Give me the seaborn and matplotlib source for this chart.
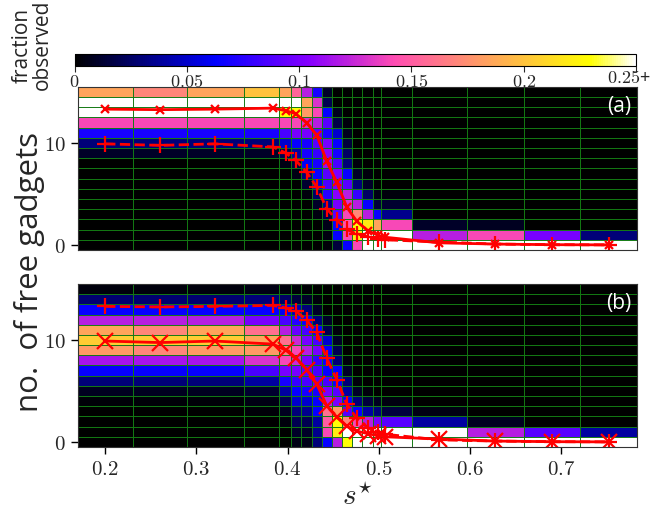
import numpy as np
import matplotlib
matplotlib.use("Agg")
import matplotlib.pyplot as plt
import seaborn as sns

sns.set_style("ticks")
plt.rcParams.update({"font.family": ["Open Sans", "DejaVu Sans"],
                     "mathtext.fontset": "cm"})

# ------------------------------------------------------------------ data
s_star = [0.2, 0.26, 0.32, 0.384, 0.398, 0.409, 0.421, 0.432, 0.443, 0.454,
          0.465, 0.476, 0.488, 0.499, 0.507, 0.566, 0.628, 0.690, 0.752]
n_free = list(range(16))

# mean number of free gadgets (two curves, shown in both panels)
mean_hi = [13.3, 13.25, 13.3, 13.4, 13.15, 12.85, 11.95, 10.75, 8.2, 6.12,
           3.7, 2.3, 1.4, 0.95, 0.75, 0.2, 0.08, 0.02, 0.0]
mean_lo = [9.9, 9.75, 9.9, 9.6, 9.0, 8.28, 7.1, 5.68, 3.55, 2.42,
           1.52, 1.06, 0.81, 0.6, 0.5, 0.28, 0.08, 0.02, 0.0]

# fraction observed (%), one list per s* column, rows n = 0..15
frac_a = [
    [0, 0, 0, 0, 0, 0, 0, 0, 0, 1, 3, 7, 14, 30, 30, 18.5],
    [0, 0, 0, 0, 0, 0, 0, 0, 0, 1, 3, 7, 14, 30, 30, 17],
    [0, 0, 0, 0, 0, 0, 0, 0, 0, 1, 3, 7, 14, 30, 30, 18.5],
    [0, 0, 0, 0, 0, 0, 0, 0, 0, 1, 3, 7, 14, 30, 30, 20],
    [0, 0, 0, 0, 0, 0, 0, 0, 0.5, 2, 5, 8.5, 14, 23, 27, 18.5],
    [0, 0, 0, 0, 0, 0, 0, 0.5, 1.5, 4, 6.5, 10, 14, 23, 26, 15.5],
    [0, 0, 0, 0, 0, 0.3, 1.2, 3, 6, 7, 7, 10, 13, 18, 18.5, 12],
    [0, 0, 0, 0.4, 1, 2.5, 5.5, 6.5, 7, 8, 9, 9, 12, 14, 13, 7],
    [0.2, 0.4, 0.6, 1.8, 3.5, 7.5, 8.5, 9, 11, 10.5, 10, 7, 9, 6.5, 2, 1],
    [1.5, 6.5, 6.5, 9, 10, 10.5, 10, 10, 8.5, 7, 6.5, 5, 1.8, 0.8, 0, 0],
    [6.5, 14, 14.5, 14, 13, 12, 9, 6.5, 3, 2.5, 1.5, 0.8, 0.3, 0, 0, 0],
    [14, 22, 23, 17, 12, 8, 3, 1, 0.3, 0, 0, 0, 0, 0, 0, 0],
    [28, 30, 22, 12, 6.5, 2.5, 1, 0.3, 0, 0, 0, 0, 0, 0, 0, 0],
    [40, 35, 18.5, 6.5, 1.5, 0.5, 0, 0, 0, 0, 0, 0, 0, 0, 0, 0],
    [45, 35, 14, 3.5, 1.2, 0.3, 0, 0, 0, 0, 0, 0, 0, 0, 0, 0],
    [86, 12, 1, 0, 0, 0, 0, 0, 0, 0, 0, 0, 0, 0, 0, 0],
    [85, 14, 0.8, 0, 0, 0, 0, 0, 0, 0, 0, 0, 0, 0, 0, 0],
    [90, 10, 0, 0, 0, 0, 0, 0, 0, 0, 0, 0, 0, 0, 0, 0],
    [97, 3, 0, 0, 0, 0, 0, 0, 0, 0, 0, 0, 0, 0, 0, 0],
]
frac_b = [
    [0, 0, 0, 0, 0.2, 0.8, 3, 6.5, 11.5, 18, 20.5, 18.5, 12, 6.5, 2.8, 0.3],
    [0, 0, 0, 0, 0.2, 0.8, 3, 6.5, 11.5, 17, 20.5, 17, 12, 6.5, 2.8, 0.3],
    [0, 0, 0, 0, 0.2, 0.8, 3, 6.5, 11.5, 18, 20.5, 18.5, 12, 6.5, 2.8, 0.3],
    [0, 0, 0, 0.2, 0.5, 1.2, 4, 8.5, 13, 18, 18.5, 16, 10, 6.5, 3, 0.5],
    [0, 0, 0.3, 0.8, 2, 4, 7, 10, 14, 16.5, 16, 12, 8.5, 6, 2.5, 0.3],
    [0.5, 1, 2, 3, 5, 6.5, 8, 10, 12.5, 14, 12.5, 9.5, 7.5, 4.5, 1.5, 0.2],
    [0.6, 1, 2, 3.5, 5, 7, 8.5, 9, 10, 12, 10, 8.5, 6.5, 3, 1, 0.1],
    [3, 3.5, 4, 6.5, 6.5, 7, 9, 8.5, 8, 10, 8.5, 6.5, 3, 1, 0.3, 0],
    [6.5, 14, 15, 16, 12, 10, 8.5, 6.5, 6.5, 6.5, 5, 2, 1, 0, 0, 0],
    [12, 22, 23, 18, 10, 9, 6.5, 6.5, 3, 2, 1, 0.3, 0, 0, 0, 0],
    [23, 30, 17, 9, 6.5, 4, 3, 1, 0.3, 0, 0, 0, 0, 0, 0, 0],
    [40, 35, 14, 6.5, 3, 1, 0.3, 0, 0, 0, 0, 0, 0, 0, 0, 0],
    [45, 35, 12, 4, 1.5, 0.3, 0, 0, 0, 0, 0, 0, 0, 0, 0, 0],
    [50, 35, 10, 3, 0.8, 0, 0, 0, 0, 0, 0, 0, 0, 0, 0, 0],
    [55, 30, 9, 1.5, 0.4, 0, 0, 0, 0, 0, 0, 0, 0, 0, 0, 0],
    [70, 27, 4, 0.5, 0, 0, 0, 0, 0, 0, 0, 0, 0, 0, 0, 0],
    [85, 12, 0.8, 0, 0, 0, 0, 0, 0, 0, 0, 0, 0, 0, 0, 0],
    [90, 9, 0, 0, 0, 0, 0, 0, 0, 0, 0, 0, 0, 0, 0, 0],
    [95, 4, 0, 0, 0, 0, 0, 0, 0, 0, 0, 0, 0, 0, 0, 0],
]

x_ticks = [0.2, 0.3, 0.4, 0.5, 0.6, 0.7]
y_ticks = [0, 10]
cbar_ticks = [0, 0.05, 0.1, 0.15, 0.2, 0.25]
VMAX = 0.25
GRID = "#137a13"

# bin edges halfway between the s* samples
xs = np.array(s_star)
mid = (xs[1:] + xs[:-1]) / 2
xedges = np.concatenate([[xs[0] - (xs[1] - xs[0]) / 2], mid,
                         [xs[-1] + (xs[-1] - xs[-2]) / 2]])
yedges = np.arange(len(n_free) + 1) - 0.5

cmap = plt.get_cmap("gnuplot2")
norm = plt.Normalize(0, VMAX)

fig = plt.figure(figsize=(6.52, 5.13), dpi=100)
ax_a = fig.add_axes([0.1193, 0.5127, 0.8574, 0.3183])
ax_b = fig.add_axes([0.1193, 0.1287, 0.8574, 0.3177])
cax = fig.add_axes([0.1143, 0.8721, 0.8612, 0.0236])


def panel(ax, frac, solid, dashed, solid_ms, label):
    C = np.array(frac).T / 100.0
    ax.pcolormesh(xedges, yedges, C, cmap=cmap, norm=norm,
                  edgecolors="none")
    # thin green cell grid
    for xe in xedges[1:-1]:
        ax.axvline(xe, color=GRID, lw=0.7)
    for ye in yedges[1:-1]:
        ax.axhline(ye, color=GRID, lw=0.7)
    sns.lineplot(x=s_star, y=dashed, ax=ax, color="red", lw=2, linestyle="--",
                 marker="+", markersize=11, markeredgecolor="red",
                 markeredgewidth=1.6, errorbar=None)
    sns.lineplot(x=s_star, y=solid, ax=ax, color="red", lw=2,
                 marker="x", markersize=solid_ms, markeredgecolor="red",
                 markeredgewidth=1.6, errorbar=None)
    ax.set_xlim(xedges[0], xedges[-1])
    ax.set_ylim(yedges[0], yedges[-1])
    ax.set_yticks(y_ticks)
    ax.set_yticklabels([f"${v}$" for v in y_ticks], fontsize=15)
    ax.set_xticks(x_ticks)
    ax.set_xticklabels([f"${v}$" for v in x_ticks], fontsize=15)
    ax.tick_params(length=5, width=1, color="black")
    ax.text(0.99, 0.88, label, transform=ax.transAxes, ha="right",
            va="center", color="white", fontsize=15)
    for sp in ax.spines.values():
        sp.set_color("#333333")


panel(ax_a, frac_a, mean_hi, mean_lo, 6, "(a)")
panel(ax_b, frac_b, mean_lo, mean_hi, 11, "(b)")
ax_a.tick_params(axis="x", bottom=False, labelbottom=False)
ax_b.set_xlabel(r"$s^{\star}$", fontsize=21, labelpad=2)

sm = plt.cm.ScalarMappable(cmap=cmap, norm=norm)
cb = fig.colorbar(sm, cax=cax, orientation="horizontal", ticks=cbar_ticks)
cb.set_ticklabels([f"${v:g}$" for v in cbar_ticks[:-1]] + [""])
cax.tick_params(labelsize=13, length=4, pad=1)
cax.text(1.026, -0.3, r"$0.25$+", transform=cax.transAxes, ha="right",
         va="top", fontsize=13)
cb.outline.set_edgecolor("black")

fig.text(0.049, 0.912, "fraction\nobserved", rotation=90, ha="center",
         va="center", fontsize=15, linespacing=0.95)
fig.text(0.046, 0.47, "no.  of free gadgets", rotation=90, ha="center",
         va="center", fontsize=22.5)

fig.savefig("out.png", dpi=100)
